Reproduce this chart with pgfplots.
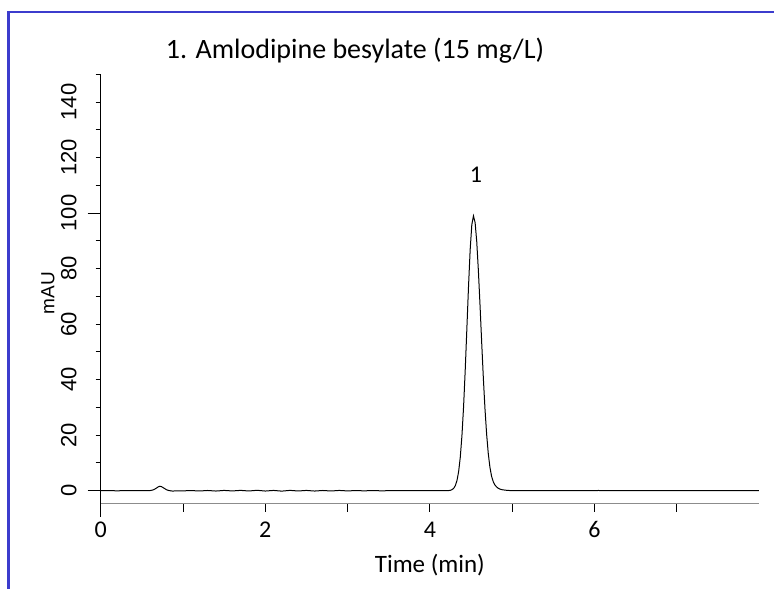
\documentclass[border=0pt]{standalone}
\usepackage{pgfplots}
\pgfplotsset{compat=1.18}
\usepackage{fontspec}
\setmainfont{Carlito}
\newfontfamily\arialf{Liberation Sans}
\definecolor{framblue}{RGB}{60,60,205}
\definecolor{axgray}{RGB}{140,140,140}
\begin{document}
\begin{tikzpicture}[x=1pt,y=1pt]
\useasboundingbox (0,0) rectangle (774,-589);
\draw[framblue, line width=2.6pt] (8.3,-589) -- (8.3,-12) -- (774,-12);
\node[font=\fontsize{28}{28}\selectfont, anchor=center] at (355,-51) {1. Amlodipine besylate (15 mg/L)};
\begin{axis}[
  at={(100.7pt,-503.5pt)}, anchor=south west,
  scale only axis, width=658.3pt, height=429.2pt,
  xmin=0, xmax=8, ymin=-4.61, ymax=150,
  axis x line=bottom, axis y line=left,
  axis line style={-},
  x axis line style={axgray, line width=1.8pt},
  y axis line style={black, line width=0.9pt, shorten <=-13.2pt},
  tick align=outside,
  xtick={0,1,2,3,4,5,6,7},
  xticklabels={0,,2,,4,,6,},
  xtick style={black, line width=0.9pt, /pgfplots/major tick length=8pt},
  ytick={0,20,40,60,80,100,120,140},
  minor ytick={10,30,50,70,90,110,130,150},
  ytick style={black, line width=0.9pt},
  major tick length=5pt, minor tick length=5pt,
  extra y ticks={0,100},
  extra y tick labels={},
  extra y tick style={/pgfplots/major tick length=13pt},
  /pgf/number format/assume math mode=true,
  xticklabel style={font=\fontsize{24}{24}\selectfont, anchor=north, inner sep=0pt, yshift=-13pt},
  yticklabel style={font=\arialf\fontsize{22}{22}\selectfont, rotate=90, anchor=south, inner sep=0pt, yshift=19pt},
  xlabel={Time (min)},
  xlabel style={font=\fontsize{25}{25}\selectfont, at={(axis description cs:0.5,-0.1433)}, anchor=center},
  ylabel={mAU},
  ylabel style={font=\arialf\fontsize{19}{19}\selectfont, at={(axis description cs:-0.080,0.49)}, anchor=center},
  clip=false,
]
\addplot[black, line width=1pt] coordinates {
(0,0) (0.1,0.02) (0.2,-0.03) (0.3,0.02) (0.4,0) (0.5,0.03) (0.6,0.05)
(0.64,0.3) (0.67,0.8) (0.70,1.4) (0.72,1.6) (0.74,1.45) (0.77,0.9) (0.80,0.35)
(0.83,0.05) (0.87,-0.12) (0.92,-0.08) (1.0,-0.05) (1.1,0.05) (1.2,-0.1) (1.3,0.08)
(1.4,-0.12) (1.5,0.1) (1.6,-0.08) (1.7,0.12) (1.8,-0.1) (1.9,0.15) (2.0,-0.12)
(2.1,0.1) (2.2,-0.15) (2.3,0.12) (2.4,-0.1) (2.5,0.1) (2.6,-0.12) (2.7,0.08)
(2.8,-0.1) (2.9,0.1) (3.0,-0.08) (3.1,0.06) (3.2,-0.05) (3.3,0.05) (3.4,-0.03)
(3.6,0.02) (3.8,0) (4.0,0.01) (4.1,0) (4.2,0.02)
(4.23,0.06) (4.25,0.16) (4.27,0.38) (4.29,0.87) (4.31,1.85) (4.33,3.7) (4.35,6.9)
(4.37,12.1) (4.39,19.8) (4.41,30.3) (4.43,43.5) (4.45,58.5) (4.47,73.6) (4.49,86.8)
(4.51,95.8) (4.53,99.0) (4.55,96.6) (4.57,89.7) (4.59,79.2) (4.61,66.7) (4.63,53.4)
(4.65,40.7) (4.67,29.5) (4.69,20.4) (4.71,13.4) (4.73,8.5) (4.75,5.2) (4.77,3.3)
(4.79,2.1) (4.81,1.4) (4.83,0.9) (4.85,0.6) (4.88,0.35) (4.93,0.15) (4.98,0.05)
(5.05,0) (5.5,0.01) (6.0,0.05) (6.05,0.08) (6.1,0.03) (6.5,0) (7.0,0) (7.5,0.01) (8.0,0)
};
\node[font=\fontsize{24}{24}\selectfont] at (axis cs:4.56,113.7) {1};
\end{axis}
\end{tikzpicture}
\end{document}
